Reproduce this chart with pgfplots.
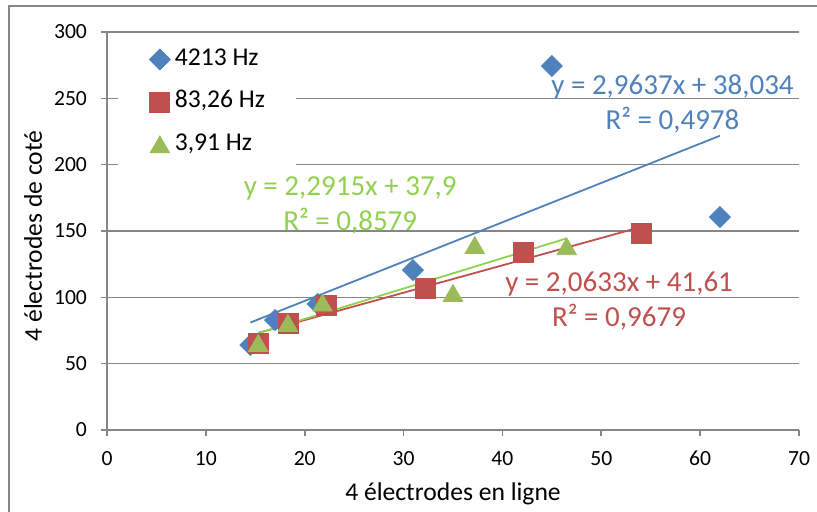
\documentclass[border=0pt]{standalone}
\usepackage{fontspec}
\setmainfont{Carlito}
\usepackage{pgfplots}
\pgfplotsset{compat=1.18}

\definecolor{exblue}{RGB}{79,129,189}
\definecolor{exred}{RGB}{192,80,77}
\definecolor{exgreen}{RGB}{155,187,89}
\definecolor{trgreen}{RGB}{146,208,80}
\definecolor{gridgray}{RGB}{134,134,134}

\begin{document}
\begin{tikzpicture}
\useasboundingbox (0,0) rectangle (408.5pt,255.5pt);
% chart frame
\draw[gridgray, line width=1pt] (4.5pt,-2pt) -- (4.5pt,252.5pt) -- (412pt,252.5pt);
\begin{axis}[
  at={(53.5pt,40.5pt)}, anchor=south west,
  scale only axis, width=346pt, height=199pt,
  xmin=0, xmax=70, ymin=0, ymax=300,
  xtick={0,10,...,70}, ytick={0,50,...,300},
  axis x line*=bottom, axis y line*=left,
  axis line style={gridgray, line width=0.8pt, -},
  tick style={gridgray, line width=0.8pt},
  tick align=outside, major tick length=3pt,
  ymajorgrids, grid style={gridgray, line width=0.8pt},
  /pgf/number format/assume math mode=true,
  ticklabel style={font=\fontsize{10.8}{13}\selectfont},
  xticklabel style={yshift=-4pt},
  yticklabel style={xshift=-3.5pt},
  xlabel={4 électrodes en ligne},
  ylabel={4 électrodes de coté},
  xlabel style={at={(axis description cs:0.5,-0.161)}, anchor=center, font=\fontsize{12.8}{15}\selectfont},
  ylabel style={at={(axis description cs:-0.107,0.487)}, anchor=center, font=\fontsize{12.8}{15}\selectfont},
  legend style={at={(rel axis cs:0.0159,0.9874)}, anchor=north west, fill=white, draw=none,
    inner xsep=15.5pt, inner ysep=5pt, row sep=9.25pt, column sep=2.25pt,
    font=\fontsize{12.8}{15}\selectfont,
    nodes={inner sep=0pt, text height=9pt, text depth=3pt}},
  legend cell align=left,
  legend image code/.code={\draw[#1] plot coordinates {(0pt,0pt)};},
  clip=false,
]
% measured points
\addplot[only marks, mark=square*, mark size=3.7pt,
  mark options={rotate=45, fill=exblue, draw=exblue}]
  coordinates {(14.5,64.1) (17.0,82.9) (21.3,95.0) (30.95,120.6) (45.0,274.4) (62.0,160.5)};
\addlegendentry{4213 Hz}
\addplot[only marks, mark=square*, mark size=5pt,
  mark options={fill=exred, draw=exred}]
  coordinates {(15.3,65.6) (18.3,80.7) (22.2,94.2) (32.2,107.0) (42.1,134.2) (54.1,148.5)};
\addlegendentry{83,26 Hz}
\addplot[only marks, mark=triangle*, mark size=5.6pt,
  mark options={yshift=-1.4pt, fill=exgreen, draw=exgreen}]
  coordinates {(15.3,65.6) (18.3,80.7) (21.8,96.0) (35.0,103.3) (37.2,139.4) (46.5,138.5)};
\addlegendentry{3,91 Hz}

% linear trend lines
\addplot[exblue, line width=0.9pt, forget plot] coordinates {(14.5,81.0) (62.0,221.8)};
\addplot[exred, line width=0.9pt, forget plot] coordinates {(15.3,73.2) (54.1,153.2)};
\addplot[trgreen, line width=0.9pt, forget plot] coordinates {(15.3,72.96) (46.5,144.45)};

% regression equations
\node[text=exblue, align=center, font=\fontsize{14.5}{17.5}\selectfont]
  at (axis cs:57.2,246.1) {y = 2,9637x + 38,034\\R² = 0,4978};
\node[text=trgreen, align=center, font=\fontsize{14.5}{17.5}\selectfont]
  at (axis cs:24.6,169.2) {y = 2,2915x + 37,9\\R² = 0,8579};
\node[text=exred, align=center, font=\fontsize{14.5}{17.5}\selectfont]
  at (axis cs:51.8,97.2) {y = 2,0633x + 41,61\\R² = 0,9679};
\end{axis}
\end{tikzpicture}
\end{document}
